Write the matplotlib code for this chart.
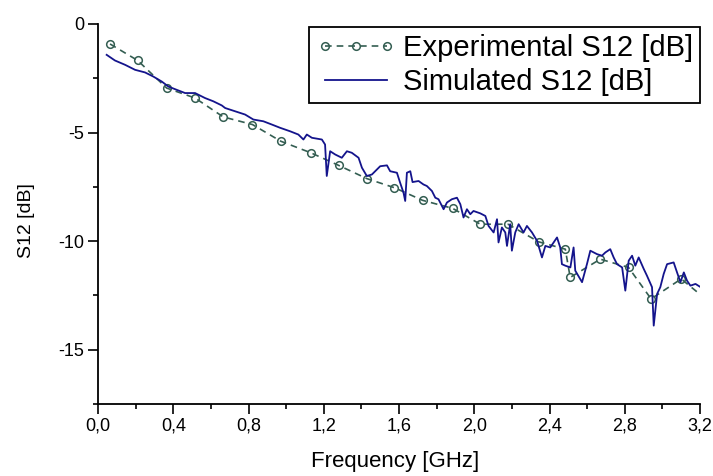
import matplotlib
matplotlib.use("Agg")
import matplotlib.pyplot as plt
from matplotlib.ticker import MultipleLocator, FuncFormatter

plt.rcParams['font.family'] = ['Liberation Sans', 'DejaVu Sans']

# Experimental S12 (markers)
exp_freq = [0.064, 0.211, 0.365, 0.516, 0.666, 0.821, 0.972, 1.131, 1.279, 1.429,
            1.576, 1.725, 1.885, 2.032, 2.179, 2.342, 2.484, 2.51, 2.67, 2.82,
            2.94, 3.10, 3.21]
exp_s12 = [-0.92, -1.68, -2.95, -3.41, -4.28, -4.63, -5.40, -5.93, -6.51, -7.12,
           -7.54, -8.12, -8.49, -9.22, -9.22, -10.03, -10.37, -11.67, -10.83, -11.21,
           -12.66, -11.74, -12.52]

# Simulated S12 (line)
sim_freq = [0.046, 0.090, 0.144, 0.197, 0.250, 0.294, 0.339, 0.374, 0.418, 0.463,
            0.516, 0.569, 0.613, 0.658, 0.676, 0.729, 0.782, 0.826, 0.879, 0.924,
            0.968, 1.021, 1.065, 1.092, 1.110, 1.137, 1.190, 1.207, 1.216, 1.234,
            1.261, 1.296, 1.323, 1.349, 1.385, 1.403, 1.429, 1.456, 1.500, 1.536,
            1.553, 1.589, 1.606, 1.624, 1.633, 1.642, 1.660, 1.672, 1.704, 1.730,
            1.748, 1.775, 1.793, 1.810, 1.837, 1.855, 1.881, 1.908, 1.926, 1.943,
            1.961, 1.979, 1.996, 2.032, 2.059, 2.076, 2.103, 2.121, 2.129, 2.147,
            2.165, 2.174, 2.191, 2.200, 2.218, 2.236, 2.262, 2.280, 2.307, 2.334,
            2.360, 2.378, 2.404, 2.440, 2.457, 2.466, 2.484, 2.511, 2.528, 2.537,
            2.573, 2.599, 2.617, 2.653, 2.679, 2.697, 2.723, 2.741, 2.759, 2.786,
            2.803, 2.821, 2.839, 2.856, 2.874, 2.901, 2.918, 2.945, 2.954, 2.972,
            2.989, 3.007, 3.025, 3.060, 3.078, 3.096, 3.114, 3.131, 3.149, 3.176,
            3.20]
sim_s12 = [-1.42, -1.68, -1.88, -2.11, -2.23, -2.42, -2.65, -2.88, -3.03, -3.18,
           -3.18, -3.41, -3.56, -3.75, -3.87, -4.02, -4.17, -4.40, -4.48, -4.63,
           -4.78, -4.94, -5.09, -5.32, -5.09, -5.24, -5.32, -5.55, -7.00, -5.86,
           -6.01, -6.16, -5.86, -5.93, -6.16, -6.62, -7.00, -6.93, -6.55, -6.51,
           -6.78, -6.85, -7.31, -7.77, -8.15, -6.85, -6.78, -7.28, -7.23, -7.39,
           -7.46, -7.69, -8.00, -8.07, -8.53, -8.22, -8.07, -8.00, -8.30, -8.91,
           -8.53, -8.76, -8.61, -8.72, -8.84, -9.30, -9.60, -8.99, -10.06, -9.37,
           -9.60, -10.22, -9.22, -10.44, -9.60, -9.22, -9.60, -9.30, -9.60, -9.99,
           -10.75, -10.22, -10.29, -9.83, -10.29, -11.06, -11.13, -11.21, -10.29, -11.36,
           -11.89, -11.06, -10.44, -10.60, -10.67, -10.52, -10.37, -10.75, -11.06, -11.21,
           -12.28, -10.90, -10.67, -11.13, -10.75, -11.28, -11.59, -12.12, -13.89, -12.43,
           -12.12, -11.51, -11.06, -10.98, -11.44, -11.89, -11.44, -11.82, -12.05, -11.97,
           -12.10]

x_major = [0.0, 0.4, 0.8, 1.2, 1.6, 2.0, 2.4, 2.8, 3.2]
y_major = [0, -5, -10, -15]

exp_color = '#345e52'
sim_color = '#14148c'

fig = plt.figure(figsize=(7.13, 4.76), dpi=100)
ax = fig.add_axes([98 / 713, 1 - 404 / 476, (700 - 98) / 713, (404 - 24) / 476])

ax.plot(sim_freq, sim_s12, color=sim_color, lw=1.3, label='Simulated S12 [dB]', zorder=3)
ax.plot(exp_freq, exp_s12, color=exp_color, lw=1.2, ls=(0, (4, 3)), marker='o',
        markersize=5.5, markerfacecolor='none', markeredgecolor=exp_color, markeredgewidth=1.1,
        markevery=list(range(len(exp_freq) - 1)), label='Experimental S12 [dB]', zorder=2)

ax.set_xlim(0, 3.2)
ax.set_ylim(-17.5, 0)
ax.set_xticks(x_major)
ax.set_yticks(y_major)
ax.xaxis.set_minor_locator(MultipleLocator(0.2))
ax.yaxis.set_minor_locator(MultipleLocator(2.5))
ax.xaxis.set_major_formatter(FuncFormatter(lambda v, p: f"{v:.1f}".replace('.', ',')))
ax.yaxis.set_major_formatter(FuncFormatter(lambda v, p: f"{v:.0f}"))

for s in ['top', 'right']:
    ax.spines[s].set_visible(False)
for s in ['left', 'bottom']:
    ax.spines[s].set_linewidth(1.3)
ax.tick_params(which='major', direction='out', length=7, width=1.2, labelsize=13, pad=3)
ax.tick_params(which='minor', direction='out', length=3.5, width=1.2)

ax.set_xlabel('Frequency [GHz]', fontsize=16)
ax.xaxis.set_label_coords(0.493, -0.125)
ax.set_ylabel('S12 [dB]', fontsize=14)
ax.yaxis.set_label_coords(-0.105, 0.482)

handles, labels = ax.get_legend_handles_labels()
leg = ax.legend(handles[::-1], labels[::-1], loc='upper right',
                bbox_to_anchor=(1.0, 1 - 3 / 380), borderaxespad=0,
                fontsize=21, frameon=True, fancybox=False, framealpha=1,
                edgecolor='black', numpoints=3, handlelength=2.7,
                handletextpad=0.25, labelspacing=0.2, borderpad=0.25)
leg.get_frame().set_linewidth(1.3)

fig.savefig('out.png', dpi=100)
